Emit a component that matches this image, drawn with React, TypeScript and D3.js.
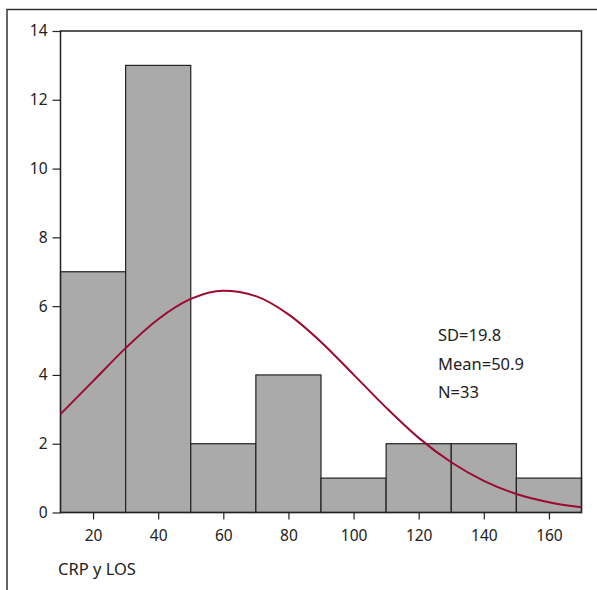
import React, { useEffect, useRef } from "react";
import * as d3 from "d3";

// histogram bins (lower edge, upper edge) and counts
const binStarts = [10, 30, 50, 70, 90, 110, 130, 150];
const binWidth = 20;
const counts = [7, 13, 2, 4, 1, 2, 2, 1];

// fitted normal curve
const curveX = [10, 20, 30, 40, 50, 60, 70, 80, 90, 100, 110, 120, 130, 140, 150, 160, 170];
const curveY = [2.86, 3.82, 4.78, 5.62, 6.21, 6.45, 6.29, 5.76, 4.96, 4.01, 3.05, 2.17, 1.46, 0.92, 0.54, 0.3, 0.15];

const xTicks = [20, 40, 60, 80, 100, 120, 140, 160];
const yTicks = [0, 2, 4, 6, 8, 10, 12, 14];
const stats = ["SD=19.8", "Mean=50.9", "N=33"];
const xLabel = "CRP y LOS";

function App() {
  const ref = useRef<SVGSVGElement>(null);

  useEffect(() => {
    const svg = d3.select(ref.current);
    svg.selectAll("*").remove();

    const left = 60.5, right = 581.5, top = 31, bottom = 512.5;
    const font = "'Noto Sans', sans-serif";

    const x = d3.scaleLinear().domain([10, 170]).range([left, right]);
    const y = d3.scaleLinear().domain([0, 14]).range([bottom, top]);

    // outer frame (only top and left edges are inside the picture)
    svg.append("path")
      .attr("d", "M7,600 V9.5 H600")
      .attr("fill", "none")
      .attr("stroke", "#333")
      .attr("stroke-width", 1.5);

    // bars
    svg.append("g")
      .selectAll("rect")
      .data(counts)
      .join("rect")
      .attr("x", (d, i) => x(binStarts[i]))
      .attr("y", (d) => y(d))
      .attr("width", (d, i) => x(binStarts[i] + binWidth) - x(binStarts[i]))
      .attr("height", (d) => y(0) - y(d))
      .attr("fill", "#aaaaaa")
      .attr("stroke", "#222")
      .attr("stroke-width", 1.2);

    // plot box
    svg.append("rect")
      .attr("x", left)
      .attr("y", top)
      .attr("width", right - left)
      .attr("height", bottom - top)
      .attr("fill", "none")
      .attr("stroke", "#222")
      .attr("stroke-width", 1.5);

    // normal curve
    const line = d3.line<number>()
      .x((d, i) => x(curveX[i]))
      .y((d) => y(d))
      .curve(d3.curveMonotoneX);

    svg.append("path")
      .datum(curveY)
      .attr("d", line)
      .attr("fill", "none")
      .attr("stroke", "#9b0b30")
      .attr("stroke-width", 2);

    // axes
    const yAxis = svg.append("g")
      .attr("transform", `translate(${left},0)`)
      .call(d3.axisLeft(y).tickValues(yTicks).tickSize(8).tickPadding(5));
    const xAxis = svg.append("g")
      .attr("transform", `translate(0,${bottom})`)
      .call(d3.axisBottom(x).tickValues(xTicks).tickSize(7).tickPadding(10));

    [xAxis, yAxis].forEach((g) => {
      g.select(".domain").remove();
      g.selectAll("line").attr("stroke", "#222").attr("stroke-width", 1.2);
      g.selectAll("text")
        .attr("font-family", font)
        .attr("font-size", 15.5)
        .attr("fill", "#222");
    });

    // stats text
    svg.append("g")
      .selectAll("text")
      .data(stats)
      .join("text")
      .attr("x", 438)
      .attr("y", (d, i) => 341 + i * 28.5)
      .attr("font-family", font)
      .attr("font-size", 16.5)
      .attr("fill", "#222")
      .text((d) => d);

    svg.append("text")
      .attr("x", 58)
      .attr("y", 575)
      .attr("font-family", font)
      .attr("font-size", 16.5)
      .attr("fill", "#222")
      .text(xLabel);
  }, []);

  return (
    <svg
      ref={ref}
      width={597}
      height={590}
      style={{ position: "absolute", left: 0, top: 0, background: "#fff" }}
    />
  );
}

export default App;
